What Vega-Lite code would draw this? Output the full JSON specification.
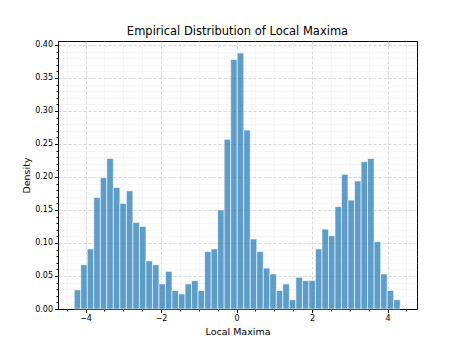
{
  "$schema": "https://vega.github.io/schema/vega-lite/v6.json",
  "width": 359,
  "height": 268,
  "autosize": {"type": "none"},
  "padding": {"left": 58, "top": 41, "right": 47, "bottom": 39},
  "title": {"text": "Empirical Distribution of Local Maxima", "font": "DejaVu Sans", "fontSize": 11.5, "fontWeight": "normal", "color": "black", "offset": 3},
  "config": {
    "view": {"stroke": "black", "strokeWidth": 1},
    "axis": {
      "labelFont": "DejaVu Sans", "labelFontSize": 8, "labelColor": "black",
      "titleFont": "DejaVu Sans", "titleFontSize": 9.5, "titleFontWeight": "normal", "titleColor": "black",
      "tickColor": "black", "domainColor": "black", "tickSize": 3.5, "labelPadding": 2
    }
  },
  "data": {"values": [
    {"start": -4.300, "end": -4.127, "density": 0.029},
    {"start": -4.127, "end": -3.955, "density": 0.067},
    {"start": -3.955, "end": -3.782, "density": 0.091},
    {"start": -3.782, "end": -3.609, "density": 0.169},
    {"start": -3.609, "end": -3.437, "density": 0.199},
    {"start": -3.437, "end": -3.264, "density": 0.228},
    {"start": -3.264, "end": -3.091, "density": 0.184},
    {"start": -3.091, "end": -2.918, "density": 0.160},
    {"start": -2.918, "end": -2.746, "density": 0.179},
    {"start": -2.746, "end": -2.573, "density": 0.131},
    {"start": -2.573, "end": -2.400, "density": 0.125},
    {"start": -2.400, "end": -2.228, "density": 0.073},
    {"start": -2.228, "end": -2.055, "density": 0.067},
    {"start": -2.055, "end": -1.882, "density": 0.038},
    {"start": -1.882, "end": -1.710, "density": 0.057},
    {"start": -1.710, "end": -1.537, "density": 0.028},
    {"start": -1.537, "end": -1.364, "density": 0.023},
    {"start": -1.364, "end": -1.191, "density": 0.038},
    {"start": -1.191, "end": -1.019, "density": 0.043},
    {"start": -1.019, "end": -0.846, "density": 0.028},
    {"start": -0.846, "end": -0.673, "density": 0.087},
    {"start": -0.673, "end": -0.501, "density": 0.091},
    {"start": -0.501, "end": -0.328, "density": 0.150},
    {"start": -0.328, "end": -0.155, "density": 0.257},
    {"start": -0.155, "end": 0.018, "density": 0.378},
    {"start": 0.018, "end": 0.190, "density": 0.388},
    {"start": 0.190, "end": 0.363, "density": 0.271},
    {"start": 0.363, "end": 0.536, "density": 0.106},
    {"start": 0.536, "end": 0.708, "density": 0.087},
    {"start": 0.708, "end": 0.881, "density": 0.062},
    {"start": 0.881, "end": 1.054, "density": 0.053},
    {"start": 1.054, "end": 1.226, "density": 0.028},
    {"start": 1.226, "end": 1.399, "density": 0.038},
    {"start": 1.399, "end": 1.572, "density": 0.014},
    {"start": 1.572, "end": 1.745, "density": 0.048},
    {"start": 1.745, "end": 1.917, "density": 0.043},
    {"start": 1.917, "end": 2.090, "density": 0.043},
    {"start": 2.090, "end": 2.263, "density": 0.091},
    {"start": 2.263, "end": 2.435, "density": 0.121},
    {"start": 2.435, "end": 2.608, "density": 0.111},
    {"start": 2.608, "end": 2.781, "density": 0.155},
    {"start": 2.781, "end": 2.953, "density": 0.204},
    {"start": 2.953, "end": 3.126, "density": 0.165},
    {"start": 3.126, "end": 3.299, "density": 0.194},
    {"start": 3.299, "end": 3.471, "density": 0.223},
    {"start": 3.471, "end": 3.644, "density": 0.228},
    {"start": 3.644, "end": 3.817, "density": 0.102},
    {"start": 3.817, "end": 3.990, "density": 0.053},
    {"start": 3.990, "end": 4.162, "density": 0.028},
    {"start": 4.162, "end": 4.335, "density": 0.014}
  ]},
  "layer": [
    {
      "mark": {"type": "bar", "opacity": 0},
      "encoding": {
        "x": {"field": "start", "type": "quantitative",
              "scale": {"domain": [-4.73, 4.78], "nice": false, "zero": false},
              "axis": {"orient": "bottom", "values": [-4.5, -3.5, -3, -2.5, -1.5, -1, -0.5, 0.5, 1, 1.5, 2.5, 3, 3.5, 4.5],
                       "labels": false, "title": null, "tickSize": 2, "domain": false,
                       "grid": true, "gridColor": "#ececec", "gridWidth": 0.5}},
        "x2": {"field": "end"},
        "y": {"field": "density", "type": "quantitative",
              "scale": {"domain": [0, 0.406], "nice": false, "zero": true},
              "axis": {"orient": "left", "values": [0.01, 0.02, 0.03, 0.04, 0.06, 0.07, 0.08, 0.09, 0.11, 0.12, 0.13, 0.14, 0.16, 0.17, 0.18, 0.19, 0.21, 0.22, 0.23, 0.24, 0.26, 0.27, 0.28, 0.29, 0.31, 0.32, 0.33, 0.34, 0.36, 0.37, 0.38, 0.39],
                       "labels": false, "title": null, "tickSize": 2, "domain": false,
                       "grid": true, "gridColor": "#ececec", "gridWidth": 0.5}},
        "y2": {"datum": 0}
      }
    },
    {
      "mark": {"type": "bar", "fill": "#1f77b4", "fillOpacity": 0.72, "stroke": "white", "strokeOpacity": 0.75, "strokeWidth": 0.8},
      "encoding": {
        "x": {"field": "start", "type": "quantitative",
              "scale": {"domain": [-4.73, 4.78], "nice": false, "zero": false},
              "axis": {"orient": "bottom", "values": [-4, -2, 0, 2, 4], "format": "d", "title": "Local Maxima", "titlePadding": 4,
                       "grid": true, "gridColor": "#cccccc", "gridWidth": 0.8, "gridDash": [3, 2]}},
        "x2": {"field": "end"},
        "y": {"field": "density", "type": "quantitative",
              "scale": {"domain": [0, 0.406], "nice": false, "zero": true},
              "axis": {"orient": "left", "values": [0, 0.05, 0.1, 0.15, 0.2, 0.25, 0.3, 0.35, 0.4], "format": ".2f", "title": "Density", "titlePadding": 3,
                       "grid": true, "gridColor": "#cccccc", "gridWidth": 0.8, "gridDash": [3, 2]}},
        "y2": {"datum": 0}
      }
    }
  ],
  "resolve": {"axis": {"x": "independent", "y": "independent"}}
}
